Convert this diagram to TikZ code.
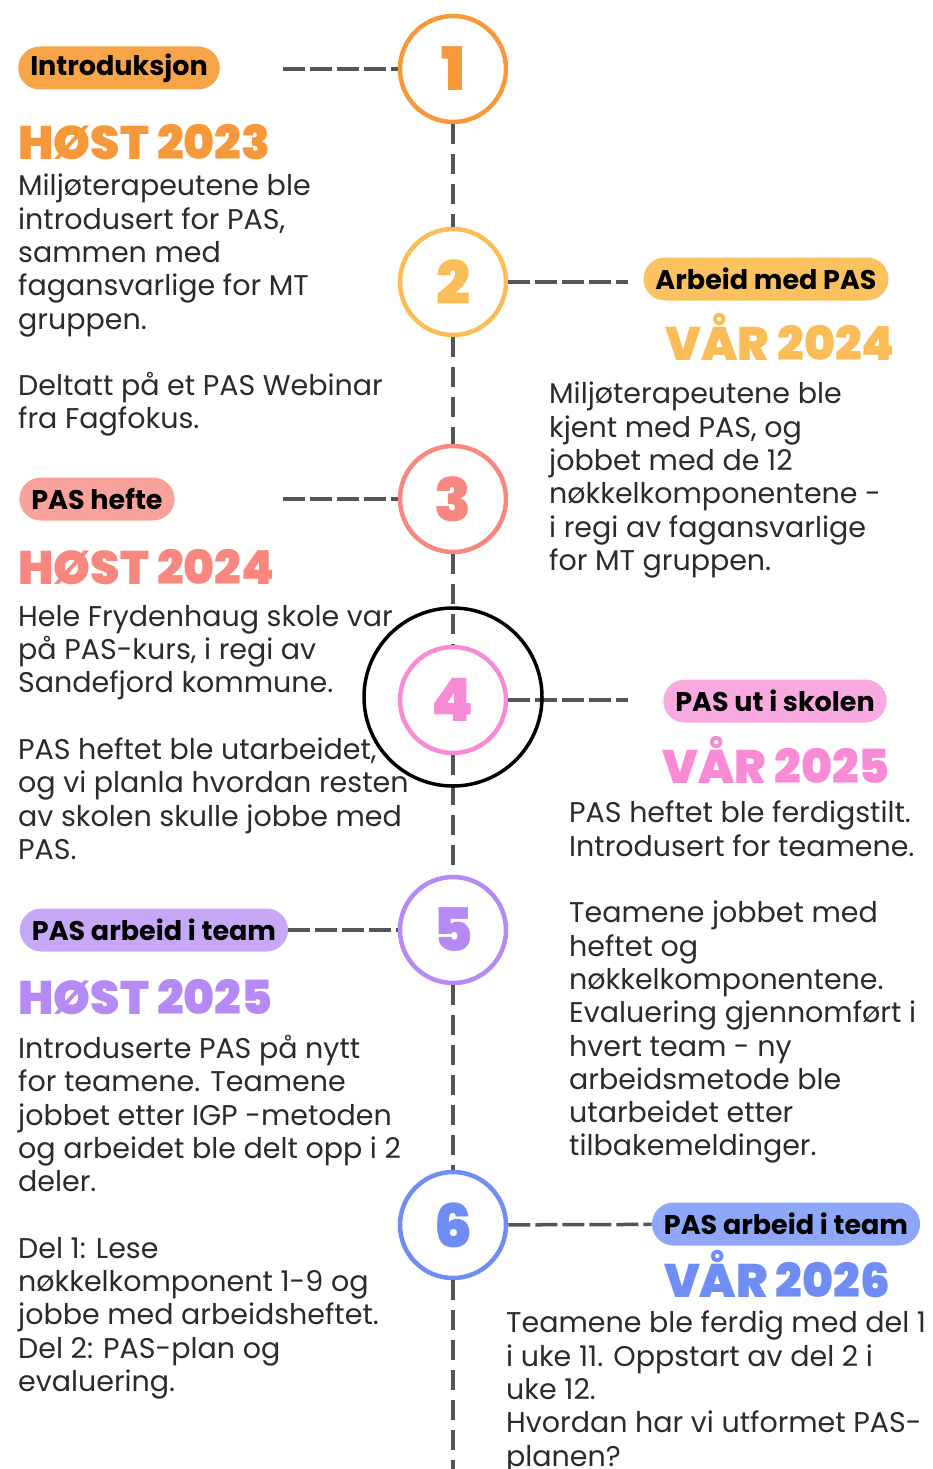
\documentclass[tikz,border=0pt]{standalone}
\usepackage{fontspec}
\setmainfont{Poppins}
\newfontfamily\heavyfont{Poppins Black}
\usetikzlibrary{positioning}

\definecolor{stepone}{HTML}{F7993A}
\definecolor{steptwo}{HTML}{FBBD58}
\definecolor{stepthree}{HTML}{F8877F}
\definecolor{stepfour}{HTML}{F98AD6}
\definecolor{stepfive}{HTML}{B68AF4}
\definecolor{stepsix}{HTML}{6F8DF4}
\definecolor{pillone}{HTML}{F8A449}
\definecolor{pilltwo}{HTML}{FBC25F}
\definecolor{pillthree}{HTML}{F9A29B}
\definecolor{pillfour}{HTML}{F9AAE0}
\definecolor{pillfive}{HTML}{C7A8F6}
\definecolor{pillsix}{HTML}{8EA7F8}
\definecolor{linegray}{HTML}{555555}
\definecolor{bodygray}{HTML}{2B2B2B}

\tikzset{
  stepcircle/.style={circle,draw=#1,line width=4.5pt,minimum size=106pt,inner sep=0pt,
    text=#1,font=\heavyfont\fontsize{60}{60}\selectfont},
  pill/.style={fill=#1,rounded corners=21.5pt,minimum height=43pt,inner xsep=12pt,
    inner ysep=0pt,font=\bfseries\fontsize{27}{27}\selectfont},
  dashline/.style={draw=linegray,line width=3.5pt},
  hdash/.style={dashline,dash pattern=on 22pt off 5pt},
  vdash/.style={dashline,dash pattern=on 20pt off 10pt},
  year/.style={text=#1,inner sep=0pt,font=\heavyfont\fontsize{47}{47}\selectfont},
  body/.style={align=left,inner sep=0pt,text=bodygray,font=\fontsize{28.5}{33.3}\selectfont},
}

\begin{document}
\begin{tikzpicture}[x=1pt,y=-1pt]
\useasboundingbox[fill=white] (0,0) rectangle (932,1469);

% the six steps on the time line
\node[stepcircle=stepone]   (c1) at (453,69)   {1};
\node[stepcircle=steptwo]   (c2) at (453,282)  {2};
\node[stepcircle=stepthree] (c3) at (453,499)  {3};
\node[stepcircle=stepfour]  (c4) at (453,700)  {4};
\node[stepcircle=stepfive]  (c5) at (453,930)  {5};
\node[stepcircle=stepsix]   (c6) at (453,1225) {6};

\coordinate (tail) at (453,1469);
\foreach \a/\b in {c1/c2,c2/c3,c3/c4,c4/c5,c5/c6,c6/tail} {
\draw[vdash] (\a) -- (\b); }

% labels
\node[pill=pillone]   (l1) at (119,68)   {Introduksjon};
\node[pill=pilltwo]   (l2) at (766,279)  {Arbeid med PAS};
\node[pill=pillthree] (l3) at (97,499)   {PAS hefte};
\node[pill=pillfour]  (l4) at (775,701)  {PAS ut i skolen};
\node[pill=pillfive]  (l5) at (154,930)  {PAS arbeid i team};
\node[pill=pillsix]   (l6) at (786,1224) {PAS arbeid i team};

\coordinate (d1) at (283,69);
\coordinate (d2) at (628,282);
\coordinate (d3) at (283,499);
\coordinate (d4) at (628,700);
\draw[hdash] (d1) -- (c1);
\draw[hdash] (c2) -- (d2);
\draw[hdash] (d3) -- (c3);
\draw[hdash] (c4) -- (d4);
\draw[hdash] (l5) -- (c5);
\draw[hdash] (c6) -- (l6);

% seasons
\node[year=stepone,anchor=base west]   (y1) at (18,160)  {HØST 2023};
\node[year=steptwo,anchor=base east]   (y2) at (895,360) {VÅR 2024};
\node[year=stepthree,anchor=base west] (y3) at (18,584)  {HØST 2024};
\node[year=stepfour,anchor=base east]  (y4) at (890,783) {VÅR 2025};
\node[year=stepfive,anchor=base west]  (y5) at (18,1014) {HØST 2025};
\node[year=stepsix,anchor=base east]   (y6) at (890,1297) {VÅR 2026};

% texts
\node[body,anchor=north west] (t1) at (18,174) {Miljøterapeutene ble\\ introdusert for PAS,\\ sammen med\\
fagansvarlige for MT\\ gruppen.\\[33.3pt] Deltatt på et PAS Webinar\\ fra Fagfokus.};
\node[body,anchor=north west] (t2) at (549,382) {Miljøterapeutene ble\\ kjent med PAS, og\\ jobbet med de 12\\
nøkkelkomponentene -\\ i regi av fagansvarlige\\ for MT gruppen.};
\node[body,anchor=north west] (t3) at (18,605) {Hele Frydenhaug skole var\\ på PAS-kurs, i regi av\\
Sandefjord kommune.\\[33.3pt] PAS heftet ble utarbeidet,\\ og vi planla hvordan resten\\
av skolen skulle jobbe med\\ PAS.};
\node[body,anchor=north west] (t4) at (569,801) {PAS heftet ble ferdigstilt.\\ Introdusert for teamene.\\[33.3pt]
Teamene jobbet med\\ heftet og\\ nøkkelkomponentene.\\ Evaluering gjennomført i\\ hvert team - ny\\
arbeidsmetode ble\\ utarbeidet etter\\ tilbakemeldinger.};
\node[body,anchor=north west] (t5) at (18,1035) {Introduserte PAS på nytt\\ for teamene. Teamene\\
jobbet etter IGP -metoden\\ og arbeidet ble delt opp i 2\\ deler.\\[33.3pt] Del 1: Lese\\
nøkkelkomponent 1-9 og\\ jobbe med arbeidsheftet.\\ Del 2: PAS-plan og\\ evaluering.};
\node[body,anchor=north west] (t6) at (506,1311) {Teamene ble ferdig med del 1\\ i uke 11. Oppstart av del 2 i\\
uke 12.\\ Hvordan har vi utformet PAS-\\ planen?};

% ring drawn round step 4
\node[circle,draw=black,line width=3.5pt,minimum size=178pt] (ring) at (453,697) {};
\end{tikzpicture}
\end{document}
